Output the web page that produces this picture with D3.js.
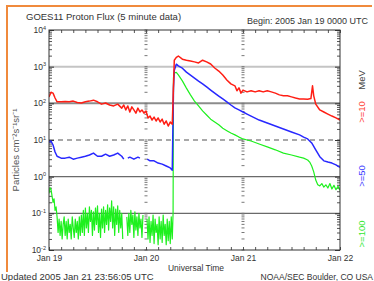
<!DOCTYPE html>
<html>
<head>
<meta charset="utf-8">
<script src="https://cdn.jsdelivr.net/npm/d3@7"></script>
<style>
  html, body { margin: 0; padding: 0; background: #fff; overflow: hidden; }
  svg { display: block; font-family: "Liberation Sans", Arial, sans-serif; }
</style>
</head>
<body>
<svg id="chart" width="374" height="281"></svg>
<script>
// hours since 2005 Jan 19 00:00 UTC, flux in particles cm-2 s-1 sr-1 (null = data gap)
const p10Time = [0,0.5,1,1.5,2,3,4,5,6,7,8,9,10,11,12,13,14,15,16,17,18,
  18.5,19,19.5,20,20.5,21,21.5,22,22.5,23,23.5,24,24.5,25,25.5,26,26.5,27,27.5,28,28.5,29,29.5,30,30.5,
  31,31.5,32,33,34,35,36,37,38,39,40,41,42,43,44,45,46,46.5,47,47.5,
  48,49,50,51,52,53,54,55,56,57,58,59,60,61,62,63,64,64.8,65.2,65.5,66,67,68,69,70,71,72];
const p10Flux = [150,200,190,140,110,110,112,110,115,105,102,110,115,122,110,95,102,90,85,95,74,
  90,66,85,58,80,66,54,74,58,66,54,62,40,45,35,42,33,40,31,37,27,33,24,31,27,
  1500,1800,1950,1600,1500,1430,1350,1260,1500,1350,1180,920,760,590,435,340,300,220,265,190,
  230,205,220,205,220,205,220,205,190,170,160,160,150,140,132,132,130,135,300,160,95,66,58,51,45,40,35];

const p50Time = [0,0.5,1,1.5,2,3,4,5,6,7,8,9,10,11,12,13,14,15,16,17,18,
  18.5,19,19.5,20,21,22,22.5,23,24.3,25,26,27,28,29,30,30.5,30.8,31,31.5,
  32,33,34,35,36,37,38,39,40,41,42,43,44,45,46,47,48,49,50,52,54,56,58,60,62,
  63,64,65,66,67,68,69,70,71,72];
const p50Flux = [8.8,9.4,7.3,4.7,3.6,3.2,3.2,3.4,3.0,3.2,3.4,3.6,3.9,4.4,3.6,3.6,4.1,3.6,3.9,4.4,3.6,
  3.0,null,3.2,3.4,3.0,3.4,3.2,null,3.0,2.7,2.7,2.35,2.2,1.95,1.73,1.5,260,800,1170,
  1050,910,710,590,490,405,340,280,230,190,158,132,110,90,75,66,58,51,45,35,29,24,20,16.6,13.8,
  12,10.7,8.3,5.4,3.5,2.7,2.5,2.35,2.1,1.8];

const p100Time = [
  0,0.25,0.5,0.75,1,1.25,1.5,1.75, 2,2.25,2.5,2.75,3,3.25,3.5,3.75,
  4,4.25,4.5,4.75,5,5.25,5.5,5.75, 6,6.25,6.5,6.75,7,7.25,7.5,7.75,
  8,8.25,8.5,8.75,9,9.25,9.5,9.75, 10,10.25,10.5,10.75,11,11.25,11.5,11.75,
  12,12.25,12.5,12.75,13,13.25,13.5,13.75, 14,14.25,14.5,14.75,15,15.25,15.5,15.75,
  16,16.25,16.5,16.75,17,17.25,17.5,17.75, 18,18.25, 18.75,
  19.25,19.5,19.75,20,20.25,20.5,20.75,21,21.25,21.5,21.75,22,22.25,22.5,22.75,23,23.25, 23.5,
  24.25,24.5,24.75,25,25.25,25.5,25.75,26,26.25,26.5,26.75,27,27.25,27.5,27.75,28,
  28.25,28.5,28.75,29,29.25,29.5,29.75,30,30.25,30.5, 30.7,
  30.8,31,31.5,32,33,34,35,36,37,38,39,40,41,42,43,44,45,46,47,48,49,50,52,54,56,58,60,62,63,64,
  64.5,65,65.5,66,66.5,67,67.5,68,68.5,69,69.5,70,70.5,71,71.5,72];
const p100Flux = [
  0.35,0.5,0.45,0.3,0.2,0.25,0.12,0.15, 0.08,0.03,0.07,0.025,0.06,0.02,0.05,0.08,
  0.025,0.06,0.02,0.07,0.03,0.05,0.02,0.08, 0.04,0.022,0.07,0.03,0.06,0.02,0.08,0.025,
  0.09,0.03,0.12,0.025,0.14,0.04,0.1,0.03, 0.15,0.06,0.12,0.025,0.11,0.035,0.14,0.05,
  0.16,0.03,0.1,0.022,0.13,0.04,0.15,0.03, 0.12,0.05,0.17,0.035,0.14,0.06,0.22,0.04,
  0.15,0.025,0.13,0.05,0.16,0.03,0.12,0.04, 0.1,0.02, null,
  0.08,0.025,0.1,0.03,0.12,0.05,0.09,0.022,0.11,0.035,0.08,0.025,0.1,0.04,0.07,0.022,0.09, null,
  0.07,0.02,0.08,0.016,0.06,0.025,0.09,0.015,0.07,0.03,0.05,0.014,0.08,0.02,0.06,0.016,
  0.09,0.025,0.05,0.014,0.07,0.018,0.06,0.015,0.08,0.02, 0.1,
  500,680,700,600,410,260,170,115,85,62,48,37,31,26,21,18,15.5,13.8,12,10.7,10,9.4,7.8,6.5,5.4,4.4,3.9,3.4,3.2,2.85,
  2.5,1.95,1.35,0.81,0.6,0.56,0.65,0.52,0.6,0.49,0.65,0.46,0.58,0.44,0.55,0.42];

const dayTicks = ["2005-01-19", "2005-01-20", "2005-01-21", "2005-01-22"];
const decades = [1e-2, 1e-1, 1e0, 1e1, 1e2, 1e3, 1e4];
const decadeExp = ["-2", "-1", "0", "1", "2", "3", "4"];
const channelLabels = [">=10", ">=50", ">=100"];

const t0 = Date.UTC(2005, 0, 19);
const toDate = h => new Date(t0 + h * 3600e3);

const svg = d3.select("#chart");
const plot = { left: 49, right: 340, top: 30, bottom: 250 };

const x = d3.scaleUtc()
  .domain([new Date(dayTicks[0]), new Date(dayTicks[3])])
  .range([plot.left, plot.right]);
const y = d3.scaleLog().domain([1e-2, 1e4]).range([plot.bottom, plot.top]);

// orange page border
svg.append("line").attr("x1", 7).attr("x2", 372).attr("y1", 6).attr("y2", 6)
  .attr("stroke", "#f08a3c").attr("stroke-width", 2);
svg.append("line").attr("x1", 7).attr("x2", 7).attr("y1", 5).attr("y2", 272)
  .attr("stroke", "#f08a3c").attr("stroke-width", 2);

// threshold lines
const hLines = [
  { v: 1e3, c: "#c4c4c4", w: 2, dash: null },
  { v: 1e2, c: "#8c8c8c", w: 2, dash: null },
  { v: 1e1, c: "#8c8c8c", w: 1.5, dash: "5,4" },
  { v: 1e0, c: "#6a6a6a", w: 1.3, dash: null },
  { v: 1e-1, c: "#6a6a6a", w: 1.3, dash: null }
];
svg.append("g").selectAll("line").data(hLines).join("line")
  .attr("x1", plot.left).attr("x2", plot.right)
  .attr("y1", d => y(d.v)).attr("y2", d => y(d.v))
  .attr("stroke", d => d.c).attr("stroke-width", d => d.w)
  .attr("stroke-dasharray", d => d.dash);

// log tick values
const minor = [];
decades.slice(0, -1).forEach(d => { for (let k = 2; k <= 9; k++) minor.push(k * d); });

// left / right axes ticks (inside)
svg.append("g").attr("transform", `translate(${plot.left},0)`)
  .call(d3.axisRight(y).tickValues(minor).tickSize(3).tickFormat(""))
  .call(g => g.select(".domain").remove())
  .selectAll("line").attr("stroke", "#555");
svg.append("g").attr("transform", `translate(${plot.left},0)`)
  .call(d3.axisRight(y).tickValues(decades).tickSize(5).tickFormat(""))
  .call(g => g.select(".domain").remove())
  .selectAll("line").attr("stroke", "#333");
svg.append("g").attr("transform", `translate(${plot.right},0)`)
  .call(d3.axisLeft(y).tickValues(minor).tickSize(3).tickFormat(""))
  .call(g => g.select(".domain").remove())
  .selectAll("line").attr("stroke", "#555");
svg.append("g").attr("transform", `translate(${plot.right},0)`)
  .call(d3.axisLeft(y).tickValues(decades).tickSize(5).tickFormat(""))
  .call(g => g.select(".domain").remove())
  .selectAll("line").attr("stroke", "#333");

// tick columns at day boundaries
[dayTicks[1], dayTicks[2]].forEach(dstr => {
  const cx = x(new Date(dstr));
  svg.append("g").selectAll("line").data(minor.concat(decades)).join("line")
    .attr("x1", cx - 1.5).attr("x2", cx + 1.5)
    .attr("y1", d => y(d)).attr("y2", d => y(d))
    .attr("stroke", "#777").attr("stroke-width", 1);
});

// top / bottom 3-hour ticks
svg.append("g").attr("transform", `translate(0,${plot.top})`)
  .call(d3.axisBottom(x).ticks(d3.utcHour.every(3)).tickSize(3).tickFormat(""))
  .call(g => g.select(".domain").remove())
  .selectAll("line").attr("stroke", "#555");
svg.append("g").attr("transform", `translate(0,${plot.bottom})`)
  .call(d3.axisTop(x).ticks(d3.utcHour.every(3)).tickSize(3).tickFormat(""))
  .call(g => g.select(".domain").remove())
  .selectAll("line").attr("stroke", "#555");

// day labels
svg.append("g").attr("transform", `translate(0,${plot.bottom})`)
  .call(d3.axisBottom(x).tickValues(dayTicks.map(d => new Date(d))).tickSize(0).tickPadding(5)
    .tickFormat(d3.utcFormat("%b %d")))
  .call(g => g.select(".domain").remove())
  .selectAll("text").attr("font-size", 8.5).attr("fill", "#333")
  .attr("font-family", "Liberation Sans, Arial, sans-serif");

// data lines
svg.append("clipPath").attr("id", "plot-clip").append("rect")
  .attr("x", plot.left).attr("y", plot.top)
  .attr("width", plot.right - plot.left).attr("height", plot.bottom - plot.top);

const series = [
  { t: p100Time, v: p100Flux, color: "#1ef01e", w: 1.2 },
  { t: p50Time, v: p50Flux, color: "#2828ff", w: 1.5 },
  { t: p10Time, v: p10Flux, color: "#ff1e14", w: 1.5 }
];
const line = d3.line()
  .defined(d => d[1] != null)
  .x(d => x(toDate(d[0])))
  .y(d => y(d[1]));
series.forEach(s => {
  svg.append("path")
    .datum(s.t.map((h, i) => [h, s.v[i]]))
    .attr("clip-path", "url(#plot-clip)")
    .attr("fill", "none")
    .attr("stroke", s.color)
    .attr("stroke-width", s.w)
    .attr("stroke-linejoin", "round")
    .attr("d", line);
});

// frame
svg.append("rect").attr("x", plot.left).attr("y", plot.top)
  .attr("width", plot.right - plot.left).attr("height", plot.bottom - plot.top)
  .attr("fill", "none").attr("stroke", "#333").attr("stroke-width", 1);

// y tick labels 10^n
const yl = svg.append("g").attr("font-size", 8.5).attr("fill", "#333");
decades.forEach((d, i) => {
  const t = yl.append("text").attr("x", 46).attr("y", y(d) + 3).attr("text-anchor", "end");
  t.append("tspan").text("10");
  t.append("tspan").attr("dy", -3.5).attr("font-size", 5.5).text(decadeExp[i]);
});

// texts
svg.append("text").attr("x", 26).attr("y", 20).attr("font-size", 9.5).attr("fill", "#333")
  .text("GOES11 Proton Flux (5 minute data)");
svg.append("text").attr("x", 247).attr("y", 24).attr("font-size", 9).attr("fill", "#333")
  .text("Begin: 2005 Jan 19 0000 UTC");
svg.append("text").attr("transform", "translate(19,150) rotate(-90)")
  .attr("text-anchor", "middle").attr("font-size", 9.5).attr("fill", "#555")
  .text("Particles cm⁻²s⁻¹sr⁻¹");
svg.append("text").attr("x", 196).attr("y", 271).attr("text-anchor", "middle")
  .attr("font-size", 8.5).attr("fill", "#333").text("Universal Time");
svg.append("text").attr("x", 1).attr("y", 280).attr("font-size", 9.5).attr("fill", "#333")
  .text("Updated 2005 Jan 21 23:56:05 UTC");
svg.append("text").attr("x", 373).attr("y", 280).attr("text-anchor", "end")
  .attr("font-size", 8.5).attr("fill", "#333")
  .text("NOAA/SEC Boulder, CO USA");

// right side channel labels
const rl = [
  { t: "MeV", c: "#444", cy: 80 },
  { t: channelLabels[0], c: "#ff3a30", cy: 112 },
  { t: channelLabels[1], c: "#3a3aff", cy: 176 },
  { t: channelLabels[2], c: "#30e830", cy: 234 }
];
svg.append("g").selectAll("text").data(rl).join("text")
  .attr("transform", d => `translate(365,${d.cy}) rotate(-90)`)
  .attr("text-anchor", "middle").attr("font-size", 9.5)
  .attr("fill", d => d.c).text(d => d.t);
</script>
</body>
</html>
